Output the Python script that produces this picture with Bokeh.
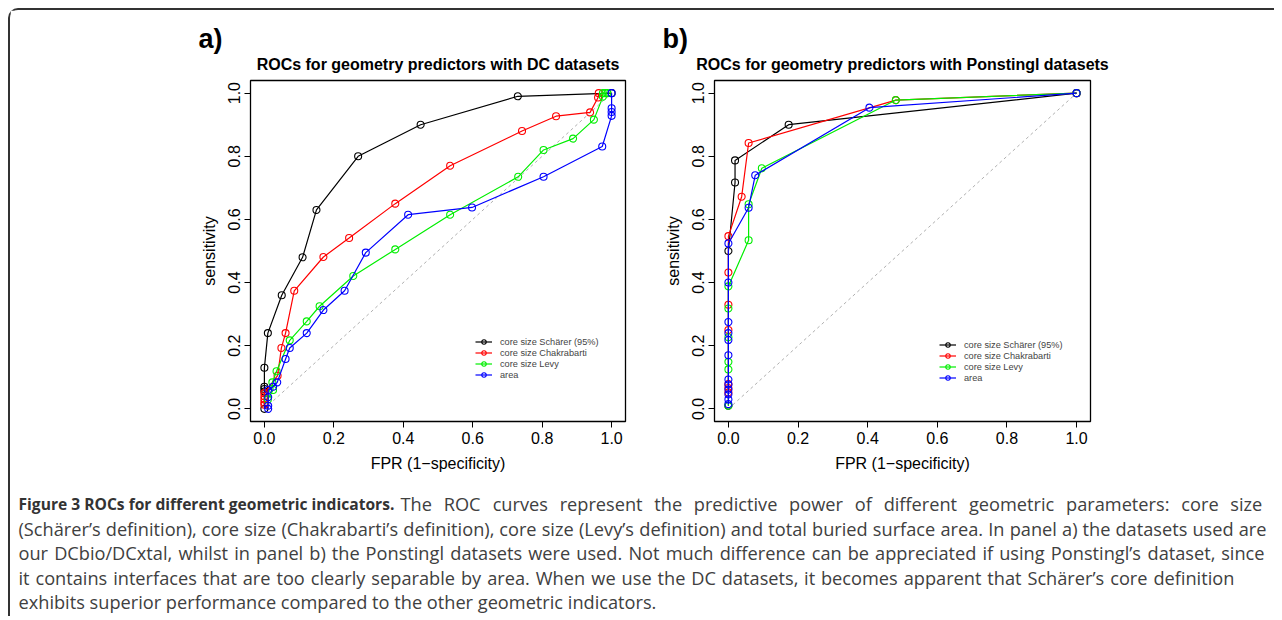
from bokeh.plotting import figure
from bokeh.models import (Range1d, FixedTicker, PrintfTickFormatter, Legend, LegendItem,
                          Title, Row, Column)
from bokeh.embed import file_html
from bokeh.resources import INLINE
from bokeh.core.properties import value

# ---------------- data ----------------
series_names = ["core size Sch\u00e4rer (95%)", "core size Chakrabarti", "core size Levy", "area"]
series_colors = ["black", "#ff0000", "#00ee00", "#0000ff"]

# panel a) DC datasets
a_schaerer_fpr = [0, 0, 0, 0, 0, 0.01, 0.05, 0.11, 0.15, 0.27, 0.45, 0.73, 1.0]
a_schaerer_tpr = [0, 0.055, 0.063, 0.07, 0.13, 0.24, 0.36, 0.48, 0.63, 0.80, 0.90, 0.99, 1.0]
a_chakra_fpr = [0, 0, 0, 0, 0, 0.038, 0.049, 0.061, 0.086, 0.17, 0.244, 0.377, 0.535, 0.742, 0.84, 0.938, 0.961, 0.963]
a_chakra_tpr = [0.013, 0.02, 0.03, 0.04, 0.05, 0.105, 0.193, 0.24, 0.374, 0.481, 0.541, 0.65, 0.77, 0.88, 0.927, 0.939, 0.986, 1.0]
a_levy_fpr = [0.01, 0.025, 0.023, 0.035, 0.073, 0.122, 0.159, 0.256, 0.377, 0.535, 0.731, 0.804, 0.889, 0.949, 0.975, 0.975, 0.982, 0.988]
a_levy_tpr = [0.03, 0.06, 0.084, 0.119, 0.217, 0.277, 0.325, 0.421, 0.505, 0.615, 0.735, 0.82, 0.856, 0.916, 0.989, 1.0, 1.0, 1.0]
a_area_fpr = [0.011, 0.011, 0.011, 0.011, 0.025, 0.037, 0.061, 0.073, 0.122, 0.17, 0.231, 0.292, 0.414, 0.598, 0.804, 0.973, 1.0, 1.0, 1.0, 1.0]
a_area_tpr = [0, 0.01, 0.037, 0.06, 0.07, 0.084, 0.158, 0.193, 0.24, 0.313, 0.374, 0.495, 0.615, 0.638, 0.735, 0.831, 0.928, 0.94, 0.952, 1.0]

# panel b) Ponstingl datasets
b_schaerer_fpr = [0, 0, 0.019, 0.019, 0.173, 1.0]
b_schaerer_tpr = [0.01, 0.5, 0.717, 0.787, 0.9, 1.0]
b_chakra_fpr = [0, 0, 0, 0, 0, 0, 0, 0.038, 0.058, 0.481, 1.0]
b_chakra_tpr = [0.052, 0.066, 0.079, 0.25, 0.33, 0.432, 0.547, 0.672, 0.842, 0.978, 1.0]
b_levy_fpr = [0, 0, 0, 0, 0, 0, 0.058, 0.058, 0.096, 0.481, 1.0]
b_levy_tpr = [0.01, 0.125, 0.149, 0.227, 0.318, 0.388, 0.534, 0.648, 0.762, 0.978, 1.0]
b_area_fpr = [0, 0, 0, 0, 0, 0, 0, 0, 0, 0, 0, 0, 0.058, 0.077, 0.405, 1.0]
b_area_tpr = [0.015, 0.03, 0.046, 0.061, 0.077, 0.093, 0.17, 0.218, 0.24, 0.275, 0.4, 0.524, 0.637, 0.74, 0.954, 1.0]

diag = [0, 1]
tick_values = [0, 0.2, 0.4, 0.6, 0.8, 1.0]

titles = ["ROCs for geometry predictors with DC datasets",
          "ROCs for geometry predictors with Ponstingl datasets"]
panel_tags = ["a)", "b)"]
x_label = "FPR (1\u2212specificity)"
y_label = "sensitivity"

caption_bold = "Figure 3 ROCs for different geometric indicators."
caption_lines = [
    "The ROC curves represent the predictive power of different geometric parameters: core size",
    "(Sch\u00e4rer\u2019s definition), core size (Chakrabarti\u2019s definition), core size (Levy\u2019s definition) and total buried surface area. In panel a) the datasets used are",
    "our DCbio/DCxtal, whilst in panel b) the Ponstingl datasets were used. Not much difference can be appreciated if using Ponstingl\u2019s dataset, since",
    "it contains interfaces that are too clearly separable by area. When we use the DC datasets, it becomes apparent that Sch\u00e4rer\u2019s core definition",
    "exhibits superior performance compared to the other geometric indicators.",
]

FONT = "Liberation Sans"


def roc_panel(width, mb_left, mb_right, mb_top, mb_bottom, title, tag,
              data, legend_loc):
    p = figure(width=width, height=478, output_backend="svg", toolbar_location=None,
               x_range=Range1d(-0.04, 1.04), y_range=Range1d(-0.04, 1.04),
               min_border_left=mb_left, min_border_right=mb_right,
               min_border_top=mb_top, min_border_bottom=mb_bottom)
    p.grid.visible = False
    p.outline_line_color = "black"
    p.outline_line_width = 1.3
    p.background_fill_color = "white"
    p.border_fill_color = "white"
    # outermost title: the panel tag
    p.title.text = tag
    p.title.align = "left"
    p.title.offset = -52
    p.title.standoff = -15
    p.title.text_font = FONT
    p.title.text_font_size = "27px"
    p.title.text_font_style = "bold"
    p.title.text_color = "black"
    # main title, adjacent to the frame
    p.add_layout(Title(text=title, align="center", standoff=15, text_font=FONT,
                       text_font_size="16px", text_font_style="bold",
                       text_color="black"), "above")
    for ax in (p.xaxis[0], p.yaxis[0]):
        ax.ticker = FixedTicker(ticks=tick_values)
        ax.formatter = PrintfTickFormatter(format="%.1f")
        ax.axis_line_color = None
        ax.major_tick_out = 6
        ax.major_tick_in = 0
        ax.major_tick_line_color = "black"
        ax.minor_tick_line_color = None
        ax.major_label_text_font = FONT
        ax.major_label_text_font_size = "16px"
        ax.major_label_text_color = "black"
        ax.major_label_standoff = 4
        ax.axis_label_text_font = FONT
        ax.axis_label_text_font_size = "16px"
        ax.axis_label_text_font_style = "normal"
        ax.axis_label_text_color = "black"
        ax.axis_label_standoff = 8
    p.xaxis.axis_label = x_label
    p.yaxis.axis_label = y_label
    p.yaxis.major_label_orientation = "vertical"

    p.line(diag, diag, line_color="#b0b0b0", line_dash="3 3", line_width=1)

    items = []
    for (xs, ys), name, col in zip(data, series_names, series_colors):
        ln = p.line(xs, ys, line_color=col, line_width=1.2)
        sc = p.scatter(xs, ys, marker="circle", size=7, fill_color=None,
                       line_color=col, line_width=1.1)
        items.append(LegendItem(label=name, renderers=[ln, sc]))
    leg = Legend(items=items, location=legend_loc, padding=0, margin=0,
                 border_line_color=None, background_fill_alpha=0,
                 label_text_font=FONT, label_text_font_size="9.2px",
                 label_height=11, glyph_height=11, glyph_width=17,
                 label_standoff=8, spacing=0)
    p.add_layout(leg, "center")
    return p


pa = roc_panel(650, 240, 35, 69, 67, titles[0], panel_tags[0],
               [(a_schaerer_fpr, a_schaerer_tpr), (a_chakra_fpr, a_chakra_tpr),
                (a_levy_fpr, a_levy_tpr), (a_area_fpr, a_area_tpr)], (225, 41))
pb = roc_panel(614, 54, 184, 70, 67, titles[1], panel_tags[1],
               [(b_schaerer_fpr, b_schaerer_tpr), (b_chakra_fpr, b_chakra_tpr),
                (b_levy_fpr, b_levy_tpr), (b_area_fpr, b_area_tpr)], (225, 38))

# ---------------- caption (justified word by word) ----------------
# approximate Open Sans advance widths (units per em = 2048)
OS_W = {" ": 532, "a": 1139, "b": 1255, "c": 975, "d": 1255, "e": 1149, "f": 694, "g": 1122,
        "h": 1257, "i": 518, "j": 518, "k": 1075, "l": 518, "m": 1905, "n": 1257, "o": 1237,
        "p": 1255, "q": 1255, "r": 836, "s": 977, "t": 723, "u": 1257, "v": 1026, "w": 1593,
        "x": 1073, "y": 1028, "z": 977, "\u00e4": 1139,
        "A": 1296, "C": 1292, "D": 1493, "I": 571, "L": 1077, "N": 1554, "O": 1599, "P": 1249,
        "R": 1298, "S": 1124, "T": 1139, "W": 1927,
        ",": 502, ".": 545, "(": 590, ")": 590, "/": 776, ":": 545, "\u2019": 362}
CAP_SIZE = 18.2


def text_w(s):
    return sum(OS_W.get(ch, 1150) for ch in s) / 2048.0 * CAP_SIZE


CAP_H = 128
cap = figure(width=1264, height=CAP_H, output_backend="svg", toolbar_location=None,
             x_range=Range1d(0, 1264), y_range=Range1d(CAP_H, 0),
             min_border=0, x_axis_location=None, y_axis_location=None)
cap.grid.visible = False
cap.outline_line_color = None

line_y = [15, 40, 64, 89, 113]
line_start = [390, 8, 8, 8, 8]
line_end = [1252, 1256, 1254, 1224, None]

wx, wy, wt = [], [], []
for txt, y, x0, x1 in zip(caption_lines, line_y, line_start, line_end):
    if x1 is None:
        wx.append(x0); wy.append(y); wt.append(txt)
        continue
    words = txt.split(" ")
    widths = [text_w(w) for w in words]
    gap = max((x1 - x0 - sum(widths)) / (len(words) - 1), text_w(" "))
    x = x0
    for w, wd in zip(words, widths):
        wx.append(x); wy.append(y); wt.append(w)
        x += wd + gap

cap.text(x=[8], y=[line_y[0]], text=[caption_bold], text_font=value("Open Sans"),
         text_font_size=value("15.6px"), text_font_style="bold", text_color="#333333",
         text_baseline="middle", text_align="left")
cap.text(x=wx, y=wy, text=wt, text_font=value("Open Sans"),
         text_font_size=value("%.1fpx" % CAP_SIZE), text_color="#404040",
         text_baseline="middle", text_align="left")

top = Row(children=[pa, pb], spacing=0)
layout = Column(children=[top, cap], spacing=0, margin=(8, 0, 0, 8),
                styles={"border-left": "2px solid #333333", "border-top": "2px solid #333333",
                        "border-top-left-radius": "10px"})

open("out.html", "w").write(file_html(layout, INLINE))
